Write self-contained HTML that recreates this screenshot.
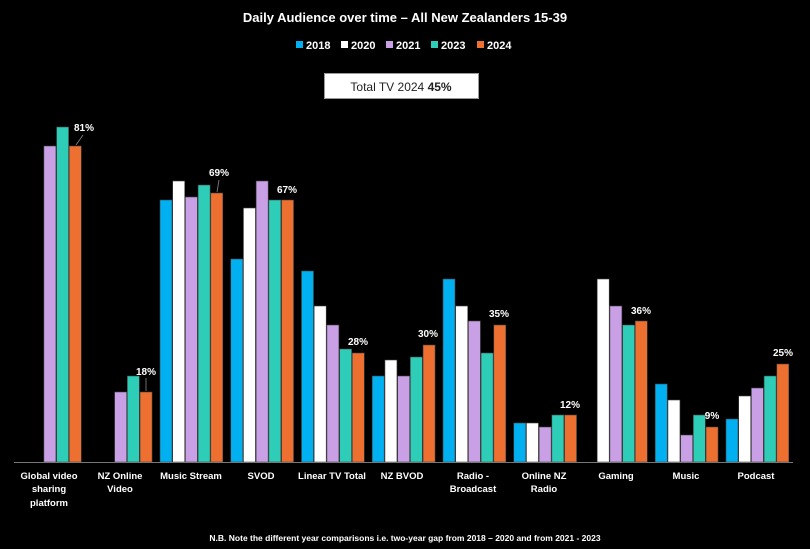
<!DOCTYPE html>
<html><head><meta charset="utf-8"><style>
html,body{margin:0;padding:0;background:#000;}
svg{display:block;font-family:"Liberation Sans",sans-serif;}
.b rect{stroke:#444;stroke-width:0.6}
.l{fill:#fff;font-size:10px;font-weight:bold;text-anchor:middle}
.c{fill:#fff;font-size:9.5px;font-weight:bold;text-anchor:middle}
</style></head><body>
<svg width="810" height="549" viewBox="0 0 810 549" xmlns="http://www.w3.org/2000/svg">
<rect width="810" height="549" fill="#000"/>
<text x="405" y="22" fill="#fff" font-size="13" font-weight="bold" text-anchor="middle">Daily Audience over time – All New Zealanders 15-39</text>
<g font-size="11" font-weight="bold" fill="#fff">
<rect x="296" y="41" width="7" height="7" fill="#00b0f0"/><text x="306" y="49">2018</text>
<rect x="341" y="41" width="7" height="7" fill="#fff"/><text x="351" y="49">2020</text>
<rect x="386" y="41" width="7" height="7" fill="#c99fe6"/><text x="396" y="49">2021</text>
<rect x="431" y="41" width="7" height="7" fill="#2ecdb8"/><text x="441" y="49">2023</text>
<rect x="477" y="41" width="7" height="7" fill="#ed7031"/><text x="487" y="49">2024</text>
</g>
<rect x="324.5" y="73.5" width="154" height="25" fill="#fff" stroke="#999"/>
<text x="401" y="91" font-size="12" text-anchor="middle" fill="#222">Total TV 2024 <tspan font-weight="bold">45%</tspan></text>
<g class="b">
<rect x="43.9" y="146" width="12" height="316" fill="#c99fe6"/><rect x="56.6" y="127" width="12" height="335" fill="#2ecdb8"/><rect x="69.3" y="146" width="12" height="316" fill="#ed7031"/>
<rect x="114.65" y="392" width="12" height="70" fill="#c99fe6"/><rect x="127.35" y="376" width="12" height="86" fill="#2ecdb8"/><rect x="140.05" y="392" width="12" height="70" fill="#ed7031"/>
<rect x="160" y="200" width="12" height="262" fill="#00b0f0"/><rect x="172.7" y="181" width="12" height="281" fill="#fff"/><rect x="185.4" y="197" width="12" height="265" fill="#c99fe6"/><rect x="198.1" y="185" width="12" height="277" fill="#2ecdb8"/><rect x="210.8" y="193" width="12" height="269" fill="#ed7031"/>
<rect x="230.75" y="259" width="12" height="203" fill="#00b0f0"/><rect x="243.45" y="208" width="12" height="254" fill="#fff"/><rect x="256.15" y="181" width="12" height="281" fill="#c99fe6"/><rect x="268.85" y="200" width="12" height="262" fill="#2ecdb8"/><rect x="281.55" y="200" width="12" height="262" fill="#ed7031"/>
<rect x="301.5" y="271" width="12" height="191" fill="#00b0f0"/><rect x="314.2" y="306" width="12" height="156" fill="#fff"/><rect x="326.9" y="325" width="12" height="137" fill="#c99fe6"/><rect x="339.6" y="349" width="12" height="113" fill="#2ecdb8"/><rect x="352.3" y="353" width="12" height="109" fill="#ed7031"/>
<rect x="372.25" y="376" width="12" height="86" fill="#00b0f0"/><rect x="384.95" y="360" width="12" height="102" fill="#fff"/><rect x="397.65" y="376" width="12" height="86" fill="#c99fe6"/><rect x="410.35" y="357" width="12" height="105" fill="#2ecdb8"/><rect x="423.05" y="345" width="12" height="117" fill="#ed7031"/>
<rect x="443" y="279" width="12" height="183" fill="#00b0f0"/><rect x="455.7" y="306" width="12" height="156" fill="#fff"/><rect x="468.4" y="321" width="12" height="141" fill="#c99fe6"/><rect x="481.1" y="353" width="12" height="109" fill="#2ecdb8"/><rect x="493.8" y="325" width="12" height="137" fill="#ed7031"/>
<rect x="513.75" y="423" width="12" height="39" fill="#00b0f0"/><rect x="526.45" y="423" width="12" height="39" fill="#fff"/><rect x="539.15" y="427" width="12" height="35" fill="#c99fe6"/><rect x="551.85" y="415" width="12" height="47" fill="#2ecdb8"/><rect x="564.55" y="415" width="12" height="47" fill="#ed7031"/>
<rect x="597.2" y="279" width="12" height="183" fill="#fff"/><rect x="609.9" y="306" width="12" height="156" fill="#c99fe6"/><rect x="622.6" y="325" width="12" height="137" fill="#2ecdb8"/><rect x="635.3" y="321" width="12" height="141" fill="#ed7031"/>
<rect x="655.25" y="384" width="12" height="78" fill="#00b0f0"/><rect x="667.95" y="400" width="12" height="62" fill="#fff"/><rect x="680.65" y="435" width="12" height="27" fill="#c99fe6"/><rect x="693.35" y="415" width="12" height="47" fill="#2ecdb8"/><rect x="706.05" y="427" width="12" height="35" fill="#ed7031"/>
<rect x="726" y="419" width="12" height="43" fill="#00b0f0"/><rect x="738.7" y="396" width="12" height="66" fill="#fff"/><rect x="751.4" y="388" width="12" height="74" fill="#c99fe6"/><rect x="764.1" y="376" width="12" height="86" fill="#2ecdb8"/><rect x="776.8" y="364" width="12" height="98" fill="#ed7031"/>
</g>
<line x1="14" y1="462.5" x2="793" y2="462.5" stroke="#777" stroke-width="1"/>
<g stroke="#888" stroke-width="0.8">
<line x1="76" y1="145" x2="83" y2="135"/><line x1="217" y1="192" x2="219" y2="180"/><line x1="146" y1="391" x2="146" y2="378"/>
</g>
<text class="l" x="84" y="131">81%</text>
<text class="l" x="219" y="176">69%</text>
<text class="l" x="287" y="193">67%</text>
<text class="l" x="146" y="375">18%</text>
<text class="l" x="358" y="345">28%</text>
<text class="l" x="428" y="337">30%</text>
<text class="l" x="499" y="317">35%</text>
<text class="l" x="570" y="408">12%</text>
<text class="l" x="641" y="314">36%</text>
<text class="l" x="712" y="419">9%</text>
<text class="l" x="783" y="356">25%</text>
<g class="c">
<text x="49" y="479">Global video</text><text x="49" y="492">sharing</text><text x="49" y="506">platform</text>
<text x="120" y="479">NZ Online</text><text x="120" y="492">Video</text>
<text x="191" y="479">Music Stream</text>
<text x="261" y="479">SVOD</text>
<text x="332" y="479">Linear TV Total</text>
<text x="402" y="479">NZ BVOD</text>
<text x="473" y="479">Radio -</text><text x="473" y="492">Broadcast</text>
<text x="544" y="479">Online NZ</text><text x="544" y="492">Radio</text>
<text x="616" y="479">Gaming</text>
<text x="686" y="479">Music</text>
<text x="756" y="479">Podcast</text>
</g>
<text x="405" y="541" fill="#fff" font-size="8.5" font-weight="bold" text-anchor="middle">N.B. Note the different year comparisons  i.e. two-year gap from 2018 – 2020 and from 2021 - 2023</text>
</svg>
</body></html>
